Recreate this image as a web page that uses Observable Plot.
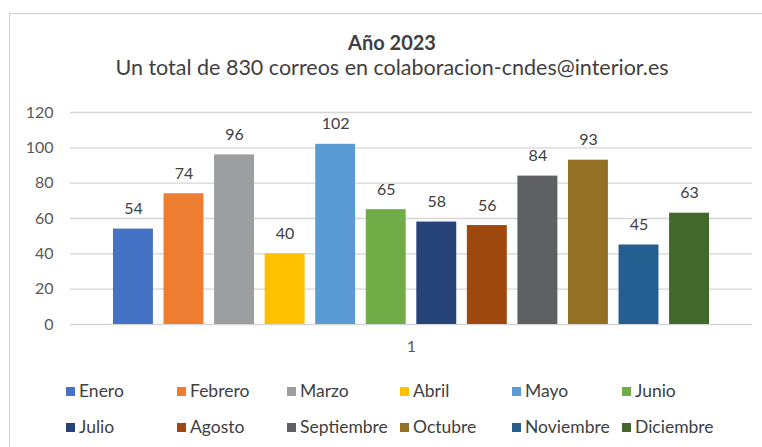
<!DOCTYPE html>
<html><head><meta charset="utf-8">
<script src="https://cdn.jsdelivr.net/npm/d3@7"></script>
<script src="https://cdn.jsdelivr.net/npm/@observablehq/plot@0.6"></script>
<style>
body{margin:0;background:#fff;font-family:Lato,"Open Sans",sans-serif;color:#595959;}
#wrap{position:absolute;left:0;top:0;width:762px;height:447px;overflow:hidden;}
#frame{position:absolute;left:9px;top:13px;width:800px;height:500px;border-top:1.5px solid #d0d0d0;border-left:1.5px solid #d0d0d0;}
#title{position:absolute;left:0;width:784px;top:30px;text-align:center;font-size:20px;line-height:24px;font-weight:bold;color:#404040;}
#subtitle{position:absolute;left:0;width:784px;top:54px;text-align:center;font-size:21.5px;line-height:26px;color:#404040;}
#chart{position:absolute;left:0;top:95px;}
.lg{position:absolute;font-size:17.5px;line-height:21px;color:#404040;white-space:nowrap;}
.lg span{display:inline-block;width:9px;height:9px;margin-right:4px;vertical-align:1px;}
</style></head>
<body>
<div id="wrap">
<div id="frame"></div>
<div id="title">Año 2023</div>
<div id="subtitle">Un total de 830 correos en colaboracion-cndes@interior.es</div>
<div id="chart"></div>
<div id="legend"></div>
</div>
<script>
const months = ["Enero","Febrero","Marzo","Abril","Mayo","Junio","Julio","Agosto","Septiembre","Octubre","Noviembre","Diciembre"];
const values = [54,74,96,40,102,65,58,56,84,93,45,63];
const colors = ["#4472C4","#ED7D31","#9C9E9F","#FFC000","#5B9BD5","#70AD47","#264478","#9E480E","#5E6062","#937024","#255E91","#43682B"];
const category = ["1"];
const yTicks = [0,20,40,60,80,100,120];

const data = months.map((m,i)=>({month:m, value:values[i], group:category[0]}));

const plot = Plot.plot({
  width: 762, height: 270,
  marginLeft: 70, marginRight: 10, marginTop: 17, marginBottom: 41,
  style:{fontFamily:"Lato, 'Open Sans', sans-serif", fontSize:"16px", color:"#595959", background:"transparent"},
  fx:{domain:category, padding:0, round:false, label:null, axis:"bottom", tickSize:0, tickPadding:16},
  x:{domain:months, paddingInner:0.21, paddingOuter:0.85, round:false, axis:null},
  y:{domain:[0,120], ticks:yTicks, label:null, tickSize:0, tickPadding:17},
  color:{domain:months, range:colors},
  marks:[
    Plot.gridY(yTicks,{stroke:"#d6d6d6", strokeOpacity:1, strokeWidth:1.3}),
    Plot.axisY({ticks:yTicks, tickSize:0, tickPadding:17, label:null}),
    Plot.barY(data,{fx:"group", x:"month", y:"value", fill:"month"}),
    Plot.text(data,{fx:"group", x:"month", y:"value", text:d=>String(d.value), dy:-20, fill:"#404040", fontSize:16})
  ]
});
document.getElementById("chart").appendChild(plot);

const lg = document.getElementById("legend");
const lx = [66,177,287,400,512,622];
const ly = [380,416];
months.forEach((m,i)=>{
  const d = document.createElement("div");
  d.className="lg";
  d.style.left = lx[i%6]+"px";
  d.style.top = ly[Math.floor(i/6)]+"px";
  d.innerHTML = `<span style="background:${colors[i]}"></span>${m}`;
  lg.appendChild(d);
});
</script>
</body></html>
